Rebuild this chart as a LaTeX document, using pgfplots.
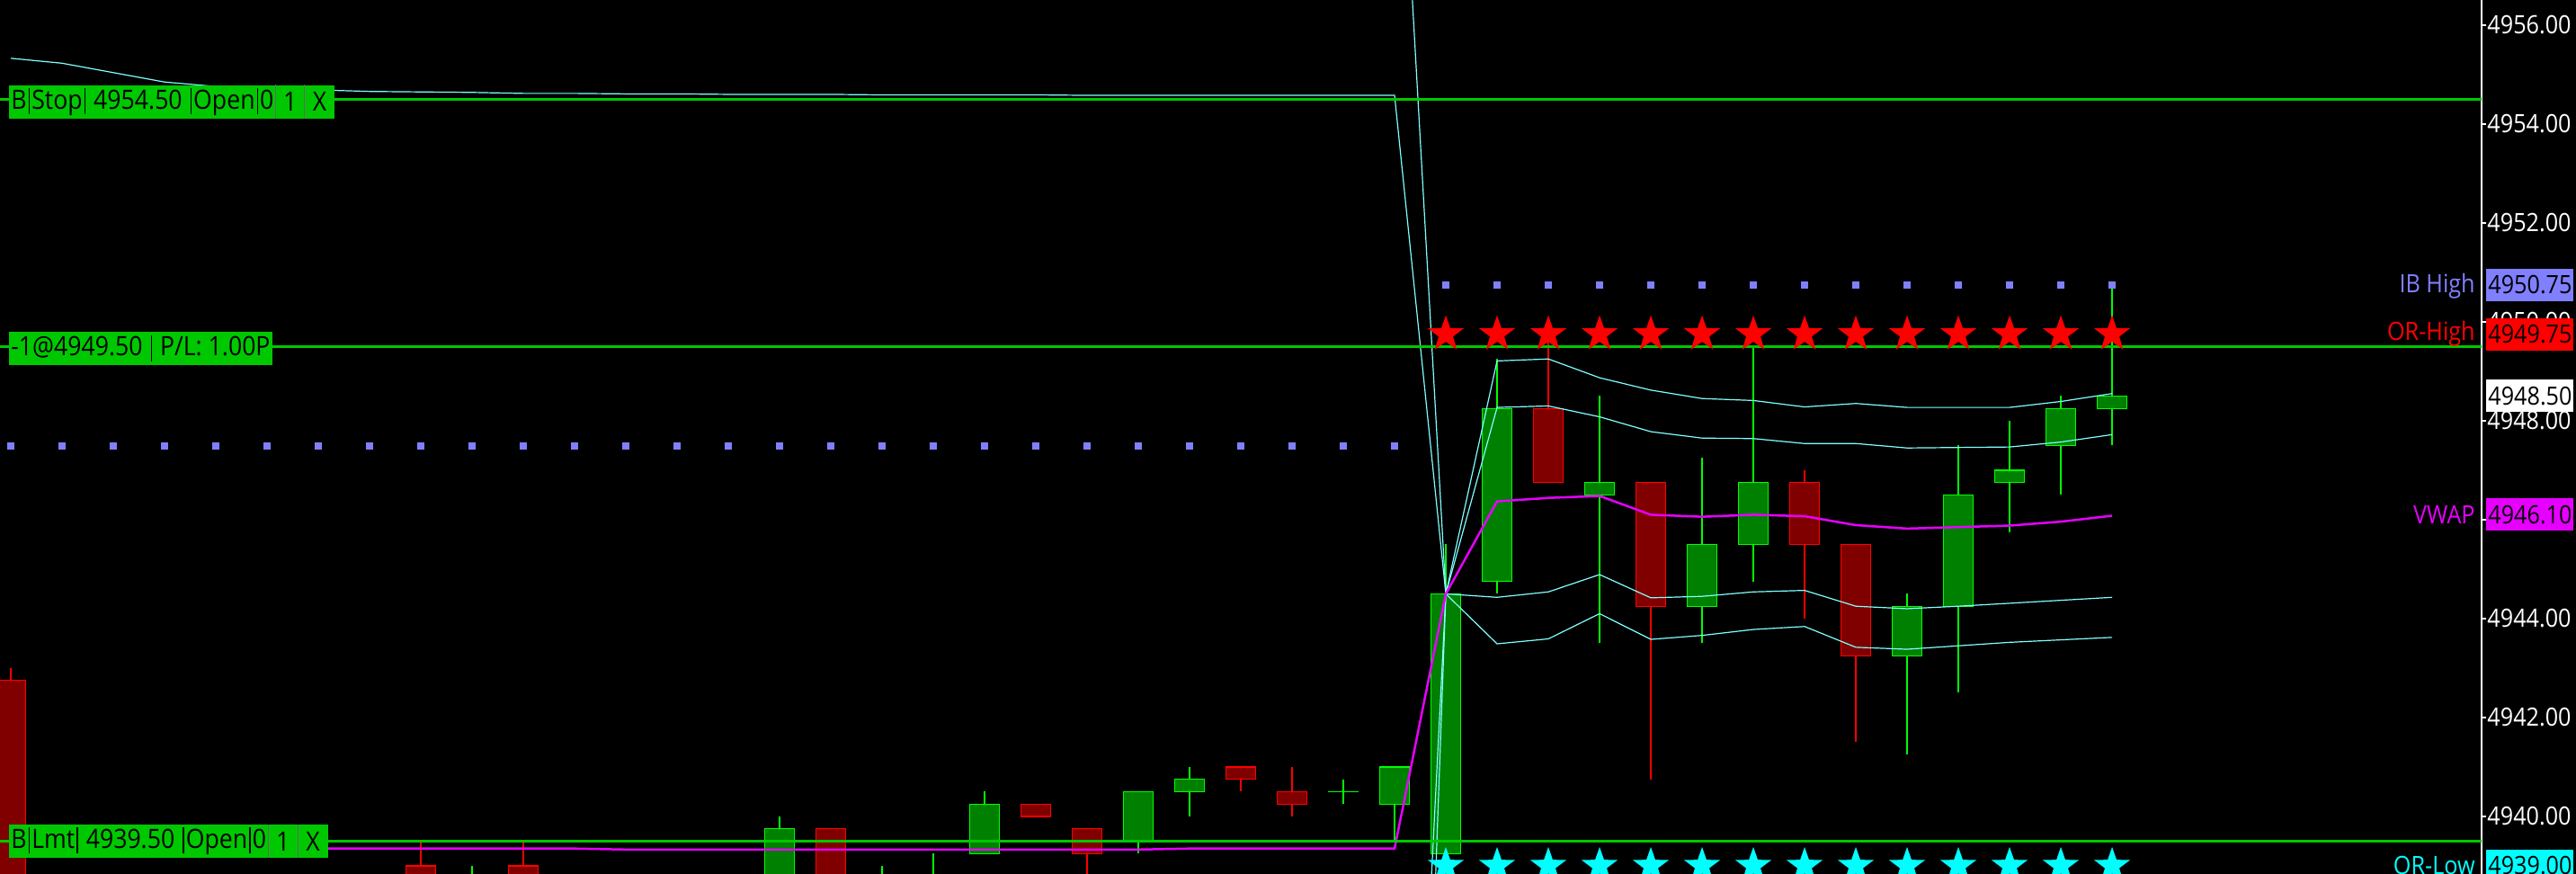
\documentclass[border=0pt]{standalone}
\usepackage{pgfplots}
\pgfplotsset{compat=1.18}
\usepackage{pgfplotstable}
\usepackage{fontspec}
\setmainfont{Open Sans}[FakeStretch=0.9]

\definecolor{ordgreen}{RGB}{0,200,0}
\definecolor{upfill}{RGB}{0,128,0}
\definecolor{upedge}{RGB}{0,255,0}
\definecolor{dnfill}{RGB}{128,0,0}
\definecolor{dnedge}{RGB}{255,0,0}
\definecolor{band}{RGB}{128,255,255}
\definecolor{vwap}{RGB}{230,0,255}
\definecolor{ibcol}{RGB}{128,128,255}
\definecolor{orlow}{RGB}{0,255,255}

\newcommand\lbl{\fontsize{14}{16}\selectfont}
\newcommand\olbl{\fontsize{14.8}{16}\selectfont}
% narrow separator bar, as in the trading platform's order flags
\newcommand\vb{\kern1.1pt\rule[-2.9pt]{0.6pt}{14.5pt}\kern1.1pt}

% filled five-pointed star
\pgfdeclareplotmark{fstar}{%
  \pgfpathmoveto{\pgfpointpolar{90}{\pgfplotmarksize}}%
  \pgfpathlineto{\pgfpointpolar{126}{0.4*\pgfplotmarksize}}%
  \pgfpathlineto{\pgfpointpolar{162}{\pgfplotmarksize}}%
  \pgfpathlineto{\pgfpointpolar{198}{0.4*\pgfplotmarksize}}%
  \pgfpathlineto{\pgfpointpolar{234}{\pgfplotmarksize}}%
  \pgfpathlineto{\pgfpointpolar{270}{0.4*\pgfplotmarksize}}%
  \pgfpathlineto{\pgfpointpolar{306}{\pgfplotmarksize}}%
  \pgfpathlineto{\pgfpointpolar{342}{0.4*\pgfplotmarksize}}%
  \pgfpathlineto{\pgfpointpolar{18}{\pgfplotmarksize}}%
  \pgfpathlineto{\pgfpointpolar{54}{0.4*\pgfplotmarksize}}%
  \pgfpathclose
  \pgfusepathqfill}

\pgfplotsset{
  wick/.style={draw=none, mark=none, forget plot,
    error bars/.cd, y dir=plus, y explicit, error mark=none,
    error bar style={draw=#1, line width=0.7pt}},
  body/.style 2 args={draw=none, mark=none, forget plot,
    error bars/.cd, y dir=plus, y explicit, error mark=none,
    error bar style={draw=#1, line width=#2}},
}

% candles: bar index, open, high, low, close
\pgfplotstableread{
j o h l c
9 4938.00 4939.00 4937.50 4938.50
15 4938.50 4940.00 4938.25 4939.75
17 4938.25 4939.00 4938.00 4938.50
18 4938.50 4939.25 4938.25 4938.75
19 4939.25 4940.50 4939.25 4940.25
22 4939.50 4940.50 4939.25 4940.50
23 4940.50 4941.00 4940.00 4940.75
26 4940.50 4940.75 4940.25 4940.50
27 4940.25 4941.00 4939.50 4941.00
28 4939.25 4945.50 4939.00 4944.50
29 4944.75 4949.25 4944.50 4948.25
31 4946.50 4948.50 4943.50 4946.75
33 4944.25 4947.25 4943.50 4945.50
34 4945.50 4949.50 4944.75 4946.75
37 4943.25 4944.50 4941.25 4944.25
38 4944.25 4947.50 4942.50 4946.50
39 4946.75 4948.00 4945.75 4947.00
40 4947.50 4948.50 4946.50 4948.25
41 4948.25 4950.75 4947.50 4948.50
}\upbars

\pgfplotstableread{
j o h l c
0 4942.75 4943.00 4936.00 4936.50
8 4939.00 4939.50 4937.50 4938.00
10 4939.00 4939.50 4937.75 4938.25
16 4939.75 4939.75 4938.00 4938.50
20 4940.25 4940.25 4940.00 4940.00
21 4939.75 4939.75 4938.50 4939.25
24 4941.00 4941.00 4940.50 4940.75
25 4940.50 4941.00 4940.00 4940.25
30 4948.25 4949.75 4946.75 4946.75
32 4946.75 4946.75 4940.75 4944.25
35 4946.75 4947.00 4944.00 4945.50
36 4945.50 4945.50 4941.50 4943.25
}\dnbars

% VWAP and bands
\pgfplotstableread{
j up2 up1 vw lo1 lo2
0 nan 4955.33 4939.35 nan nan
1 nan 4955.23 4939.35 nan nan
2 nan 4955.04 4939.35 nan nan
3 nan 4954.85 4939.35 nan nan
4 nan 4954.76 4939.35 nan nan
5 nan 4954.72 4939.35 nan nan
6 nan 4954.69 4939.35 nan nan
7 nan 4954.66 4939.35 nan nan
8 nan 4954.65 4939.35 nan nan
9 nan 4954.64 4939.35 nan nan
10 nan 4954.62 4939.35 nan nan
11 nan 4954.62 4939.35 nan nan
12 nan 4954.61 4939.33 nan nan
13 nan 4954.61 4939.33 nan nan
14 nan 4954.60 4939.33 nan nan
15 nan 4954.60 4939.33 nan nan
16 nan 4954.60 4939.33 nan nan
17 nan 4954.59 4939.33 nan nan
18 nan 4954.59 4939.33 nan nan
19 nan 4954.59 4939.33 nan nan
20 nan 4954.59 4939.33 nan nan
21 nan 4954.58 4939.33 nan nan
22 nan 4954.58 4939.33 nan nan
23 nan 4954.58 4939.35 nan nan
24 nan 4954.58 4939.35 nan nan
25 nan 4954.58 4939.35 nan nan
26 nan 4954.58 4939.35 nan nan
27 4962.90 4954.58 4939.35 4924.10 4915.80
28 4944.50 4944.50 4944.50 4944.50 4944.50
29 4949.21 4948.27 4946.37 4944.43 4943.49
30 4949.25 4948.30 4946.44 4944.54 4943.59
31 4948.87 4948.08 4946.48 4944.89 4944.10
32 4948.62 4947.78 4946.10 4944.42 4943.58
33 4948.45 4947.65 4946.06 4944.45 4943.66
34 4948.41 4947.64 4946.10 4944.54 4943.78
35 4948.28 4947.54 4946.07 4944.57 4943.84
36 4948.35 4947.54 4945.89 4944.25 4943.42
37 4948.27 4947.45 4945.82 4944.20 4943.38
38 4948.27 4947.46 4945.85 4944.25 4943.45
39 4948.27 4947.47 4945.88 4944.31 4943.52
40 4948.39 4947.57 4945.96 4944.37 4943.57
41 4948.55 4947.72 4946.08 4944.43 4943.62
}\bands

\begin{document}
\begin{tikzpicture}
\useasboundingbox (0,0) rectangle (1432.5pt,486pt);
\fill[black] (0,0) rectangle (1432.5pt,486pt);
\begin{axis}[
  at={(0,0)}, anchor=south west,
  scale only axis, width=1380pt, height=486pt,
  xmin=-0.2105, xmax=48.2105,
  ymin=4938.836, ymax=4956.509,
  axis x line=none, axis y line=right,
  axis line style={-, white, line width=0.7pt},
  xtick=\empty,
  ytick={4940,4942,4944,4946,4948,4950,4952,4954,4956},
  yticklabels={4940.00,4942.00,4944.00,4946.00,4948.00,4950.00,4952.00,4954.00,4956.00},
  tick align=outside, major tick length=2.5pt,
  tick style={white, line width=0.6pt},
  yticklabel style={text=white, font=\lbl, inner xsep=0.5pt},
]
% initial balance high
\addplot[only marks, mark=square*, mark size=1.75pt, ibcol, forget plot] coordinates {
  (0,4947.5) (1,4947.5) (2,4947.5) (3,4947.5) (4,4947.5) (5,4947.5) (6,4947.5)
  (7,4947.5) (8,4947.5) (9,4947.5) (10,4947.5) (11,4947.5) (12,4947.5) (13,4947.5)
  (14,4947.5) (15,4947.5) (16,4947.5) (17,4947.5) (18,4947.5) (19,4947.5) (20,4947.5)
  (21,4947.5) (22,4947.5) (23,4947.5) (24,4947.5) (25,4947.5) (26,4947.5) (27,4947.5)
  (28,4950.75) (29,4950.75) (30,4950.75) (31,4950.75) (32,4950.75) (33,4950.75) (34,4950.75)
  (35,4950.75) (36,4950.75) (37,4950.75) (38,4950.75) (39,4950.75) (40,4950.75) (41,4950.75)
};
% opening range stars
\addplot[only marks, mark=fstar, mark size=10.5pt, dnedge, forget plot] coordinates {
  (28,4949.75) (29,4949.75) (30,4949.75) (31,4949.75) (32,4949.75) (33,4949.75) (34,4949.75)
  (35,4949.75) (36,4949.75) (37,4949.75) (38,4949.75) (39,4949.75) (40,4949.75) (41,4949.75)
};
\addplot[only marks, mark=fstar, mark size=10.5pt, orlow, forget plot] coordinates {
  (28,4939) (29,4939) (30,4939) (31,4939) (32,4939) (33,4939) (34,4939)
  (35,4939) (36,4939) (37,4939) (38,4939) (39,4939) (40,4939) (41,4939)
};
% candles
\addplot[wick=upedge] table[x=j, y=l, y error plus expr=\thisrow{h}-\thisrow{l}] {\upbars};
\addplot[wick=dnedge] table[x=j, y=l, y error plus expr=\thisrow{h}-\thisrow{l}] {\dnbars};
\addplot[body={upedge}{17.2pt}] table[x=j, y expr={min(\thisrow{o},\thisrow{c})-0.011},
  y error plus expr={abs(\thisrow{c}-\thisrow{o})+0.022}] {\upbars};
\addplot[body={upfill}{15.9pt}] table[x=j, y expr={min(\thisrow{o},\thisrow{c})+0.011},
  y error plus expr={max(abs(\thisrow{c}-\thisrow{o})-0.022,0)}] {\upbars};
\addplot[body={dnedge}{17.2pt}] table[x=j, y expr={min(\thisrow{o},\thisrow{c})-0.011},
  y error plus expr={abs(\thisrow{c}-\thisrow{o})+0.022}] {\dnbars};
\addplot[body={dnfill}{15.9pt}] table[x=j, y expr={min(\thisrow{o},\thisrow{c})+0.011},
  y error plus expr={max(abs(\thisrow{c}-\thisrow{o})-0.022,0)}] {\dnbars};
% bands and vwap
\addplot[band, line width=0.6pt, forget plot] table[x=j, y=up2] {\bands};
\addplot[band, line width=0.6pt, forget plot] table[x=j, y=up1] {\bands};
\addplot[band, line width=0.6pt, forget plot] table[x=j, y=lo1] {\bands};
\addplot[band, line width=0.6pt, forget plot] table[x=j, y=lo2] {\bands};
\addplot[vwap, line width=1.25pt, forget plot] table[x=j, y=vw] {\bands};
% working orders and position
\addplot[ordgreen, line width=1.5pt, forget plot] coordinates {(-1,4954.5) (49,4954.5)};
\addplot[ordgreen, line width=1.5pt, forget plot] coordinates {(-1,4949.5) (49,4949.5)};
\addplot[ordgreen, line width=1.5pt, forget plot] coordinates {(-1,4939.5) (49,4939.5)};

\coordinate (Lstop) at (axis cs:-0.2105,4954.45);
\coordinate (Lpos)  at (axis cs:-0.2105,4949.47);
\coordinate (Llmt)  at (axis cs:-0.2105,4939.5);
\coordinate (Rib)   at (axis cs:48.2105,4950.75);
\coordinate (Rorh)  at (axis cs:48.2105,4949.75);
\coordinate (Rlast) at (axis cs:48.2105,4948.5);
\coordinate (Rvw)   at (axis cs:48.2105,4946.1);
\coordinate (Rorl)  at (axis cs:48.2105,4939.0);
\end{axis}

\tikzset{
  gbox/.style={fill=ordgreen, text=black, font=\olbl, inner xsep=1pt, inner ysep=0pt,
    minimum height=18.5pt, anchor=west},
  rbox/.style={text=black, font=\lbl, inner sep=0pt, minimum height=18pt,
    minimum width=48.5pt, anchor=west},
  rtxt/.style={font=\lbl, inner sep=0pt, anchor=east},
}
% order labels
\node[gbox] (s1) at ([xshift=5pt]Lstop) {B\vb Stop\vb{} 4954.50 \vb Open\vb 0};
\node[gbox, minimum width=15.5pt] (s2) at (s1.east) {1};
\node[gbox, minimum width=16.5pt] (s3) at (s2.east) {X};
\draw[black!60, line width=0.4pt] (s2.north west) -- (s2.south west) (s3.north west) -- (s3.south west);

\node[gbox] at ([xshift=5pt]Lpos) {-1@4949.50 \vb{} P/L: 1.00P};

\node[gbox] (m1) at ([xshift=5pt]Llmt) {B\vb Lmt\vb{} 4939.50 \vb Open\vb 0};
\node[gbox, minimum width=16pt] (m2) at (m1.east) {1};
\node[gbox, minimum width=16.5pt] (m3) at (m2.east) {X};
\draw[black!60, line width=0.4pt] (m2.north west) -- (m2.south west) (m3.north west) -- (m3.south west);

% price flags
\node[rbox, fill=ibcol] at ([xshift=2.5pt]Rib) {4950.75};
\node[rbox, fill=dnedge] at ([xshift=2.5pt]Rorh) {4949.75};
\node[rbox, fill=white] at ([xshift=2.5pt]Rlast) {4948.50};
\node[rbox, fill=vwap] at ([xshift=2.5pt]Rvw) {4946.10};
\node[rbox, fill=orlow] at ([xshift=2.5pt]Rorl) {4939.00};

\node[rtxt, text=ibcol] at ([xshift=-3.5pt,yshift=-1pt]Rib) {IB High};
\node[rtxt, text=dnedge] at ([xshift=-3.5pt]Rorh) {OR-High};
\node[rtxt, text=vwap] at ([xshift=-3.5pt]Rvw) {VWAP};
\node[rtxt, text=orlow] at ([xshift=-3.5pt]Rorl) {OR-Low};
\end{tikzpicture}
\end{document}
